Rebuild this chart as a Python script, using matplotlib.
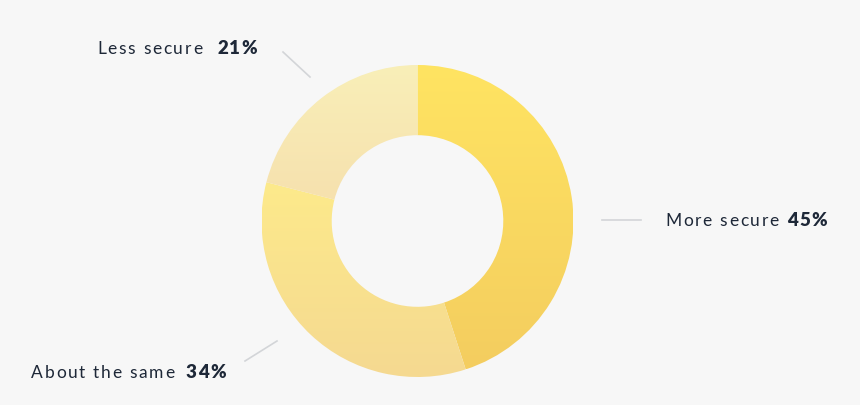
import matplotlib
matplotlib.use('Agg')
import matplotlib.pyplot as plt
import numpy as np
from matplotlib.colors import LinearSegmentedColormap

# Data
labels = ['More secure', 'About the same', 'Less secure']
values = [45, 34, 21]
# gradient colours (top, bottom) per slice
top_colors = ['#ffe462', '#fdea8b', '#f9efb8']
bottom_colors = ['#f4cd5f', '#f5d991', '#f6e1ae']

BG = '#f7f7f7'
TEXT = '#1e2838'
LINE = '#d3d5d8'

W, H = 860, 406
fig = plt.figure(figsize=(W / 100, H / 100), dpi=100, facecolor=BG)
ax = fig.add_axes([0, 0, 1, 1])
ax.set_facecolor(BG)

cx, cy, R = 417.5, H - 222, 156
wedges, _ = ax.pie(values, startangle=90, counterclock=False, radius=R,
                   center=(cx, cy), frame=True,
                   wedgeprops=dict(width=R * 0.45, linewidth=0))
ax.set_xlim(0, W)
ax.set_ylim(0, H)
ax.set_aspect('equal')
ax.axis('off')

# vertical gradient fill clipped to each wedge
for w, c0, c1 in zip(wedges, top_colors, bottom_colors):
    ext = w.get_path().get_extents()
    cmap = LinearSegmentedColormap.from_list('g', [c1, c0])
    grad = np.linspace(0, 1, 256).reshape(-1, 1)
    im = ax.imshow(grad, cmap=cmap, origin='lower', aspect='auto',
                   extent=[ext.x0, ext.x1, ext.y0, ext.y1], zorder=2)
    im.set_clip_path(w)
    w.set_facecolor('none')

# leader lines (pixel coords, y from top)
leaders = [((602, 221), (641, 221)), ((277, 342), (245, 362)), ((310, 78), (283, 53))]
for (x0, y0), (x1, y1) in leaders:
    ax.plot([x0, x1], [H - y0, H - y1], color=LINE, lw=1.2, zorder=1)

fig.canvas.draw()
renderer = fig.canvas.get_renderer()


def spaced_text(x, y, s, size, weight='normal', tracking=1.6):
    # draw text char by char to emulate letter spacing
    for ch in s:
        t = ax.text(x, y, ch, fontsize=size, fontweight=weight, color=TEXT,
                    family='Lato', va='baseline', ha='left')
        bb = t.get_window_extent(renderer=renderer)
        x += bb.width + tracking
    return x


label_pos = [(665, 226, '45%', 787), (31, 378, '34%', 186), (97, 54, '21%', 217)]
for lab, (x, y, pct, px) in zip(labels, label_pos):
    spaced_text(x, H - y, lab, 12.5, tracking=1.7)
    spaced_text(px, H - y, pct, 13.5, weight='heavy', tracking=1.4)

fig.savefig('out.png', dpi=100, facecolor=BG)
